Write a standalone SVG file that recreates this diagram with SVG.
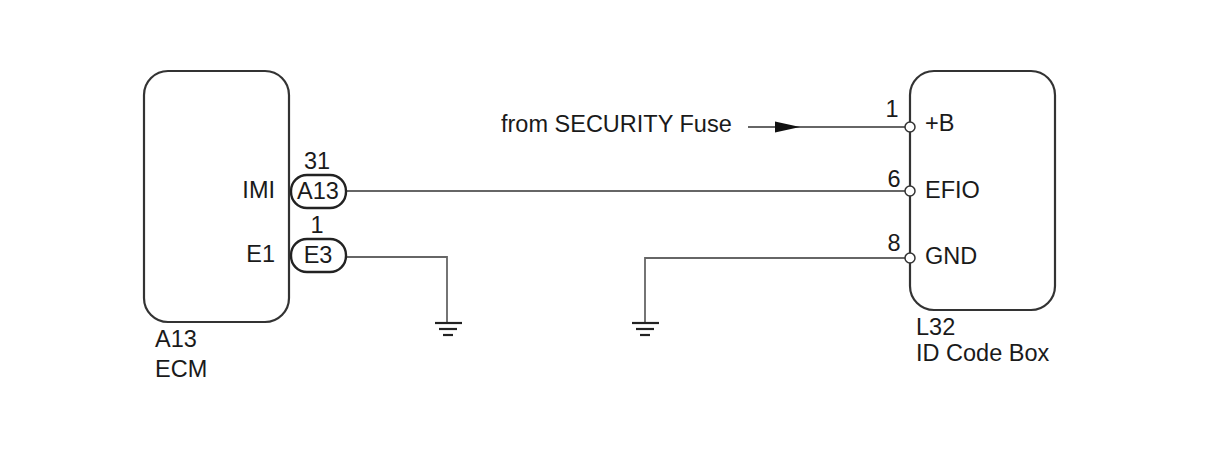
<svg xmlns="http://www.w3.org/2000/svg" width="1210" height="474" viewBox="0 0 1210 474">
<style>
text{font-family:"Liberation Sans",Arial,sans-serif;font-size:23.5px;fill:#1a1a1a}
.box{fill:#fff;stroke:#333;stroke-width:2.2}
.pill{fill:#fff;stroke:#222;stroke-width:2.4}
.wire{fill:none;stroke:#333;stroke-width:1.6}
.gw{fill:none;stroke:#666;stroke-width:1.8}
.gnd{stroke:#222;stroke-width:2.2}
.pin{fill:#fff;stroke:#333;stroke-width:1.5}
.m{text-anchor:middle}
.e{text-anchor:end}
</style>
<rect width="1210" height="474" fill="#fff"/>
<g id="connectors">
<line class="wire" x1="748" y1="127" x2="910" y2="127"/>
<polygon points="775,121.5 800,127 775,132.5" fill="#111"/>
<line class="wire" x1="346" y1="191" x2="910" y2="191"/>
<polyline class="gw" points="346,257 447,257 447,323"/>
<polyline class="gw" points="910,258 645,258 645,323"/>
<g id="ground1">
<line class="gnd" x1="435" y1="323" x2="462" y2="323"/>
<line class="gnd" x1="439" y1="329" x2="457" y2="329"/>
<line class="gnd" x1="443" y1="335" x2="453" y2="335"/>
</g>
<g id="ground2">
<line class="gnd" x1="632" y1="323" x2="659" y2="323"/>
<line class="gnd" x1="636" y1="329" x2="654" y2="329"/>
<line class="gnd" x1="640" y1="335" x2="650" y2="335"/>
</g>
<text x="501" y="132">from SECURITY Fuse</text>
</g>
<g id="ecm">
<rect class="box" x="144" y="71" width="145" height="251" rx="24"/>
<text x="275" y="198" class="e">IMI</text>
<text x="275" y="262" class="e">E1</text>
<text x="155" y="347">A13</text>
<text x="155" y="377">ECM</text>
</g>
<g id="conn-a13">
<rect class="pill" x="291" y="175" width="55" height="33" rx="16"/>
<text x="318" y="199" class="m">A13</text>
<text x="317" y="169" class="m">31</text>
</g>
<g id="conn-e3">
<rect class="pill" x="291" y="239" width="55" height="33" rx="16"/>
<text x="318" y="263" class="m">E3</text>
<text x="317" y="233" class="m">1</text>
</g>
<g id="idcodebox">
<rect class="box" x="910" y="71" width="145" height="239" rx="24"/>
<circle class="pin" cx="910" cy="127" r="5"/>
<circle class="pin" cx="910" cy="191" r="5"/>
<circle class="pin" cx="910" cy="258" r="5"/>
<text x="892" y="117" class="m">1</text>
<text x="894" y="187" class="m">6</text>
<text x="894" y="251" class="m">8</text>
<text x="925" y="131">+B</text>
<text x="925" y="198">EFIO</text>
<text x="925" y="264">GND</text>
<text x="916" y="335">L32</text>
<text x="916" y="361">ID Code Box</text>
</g>
</svg>
